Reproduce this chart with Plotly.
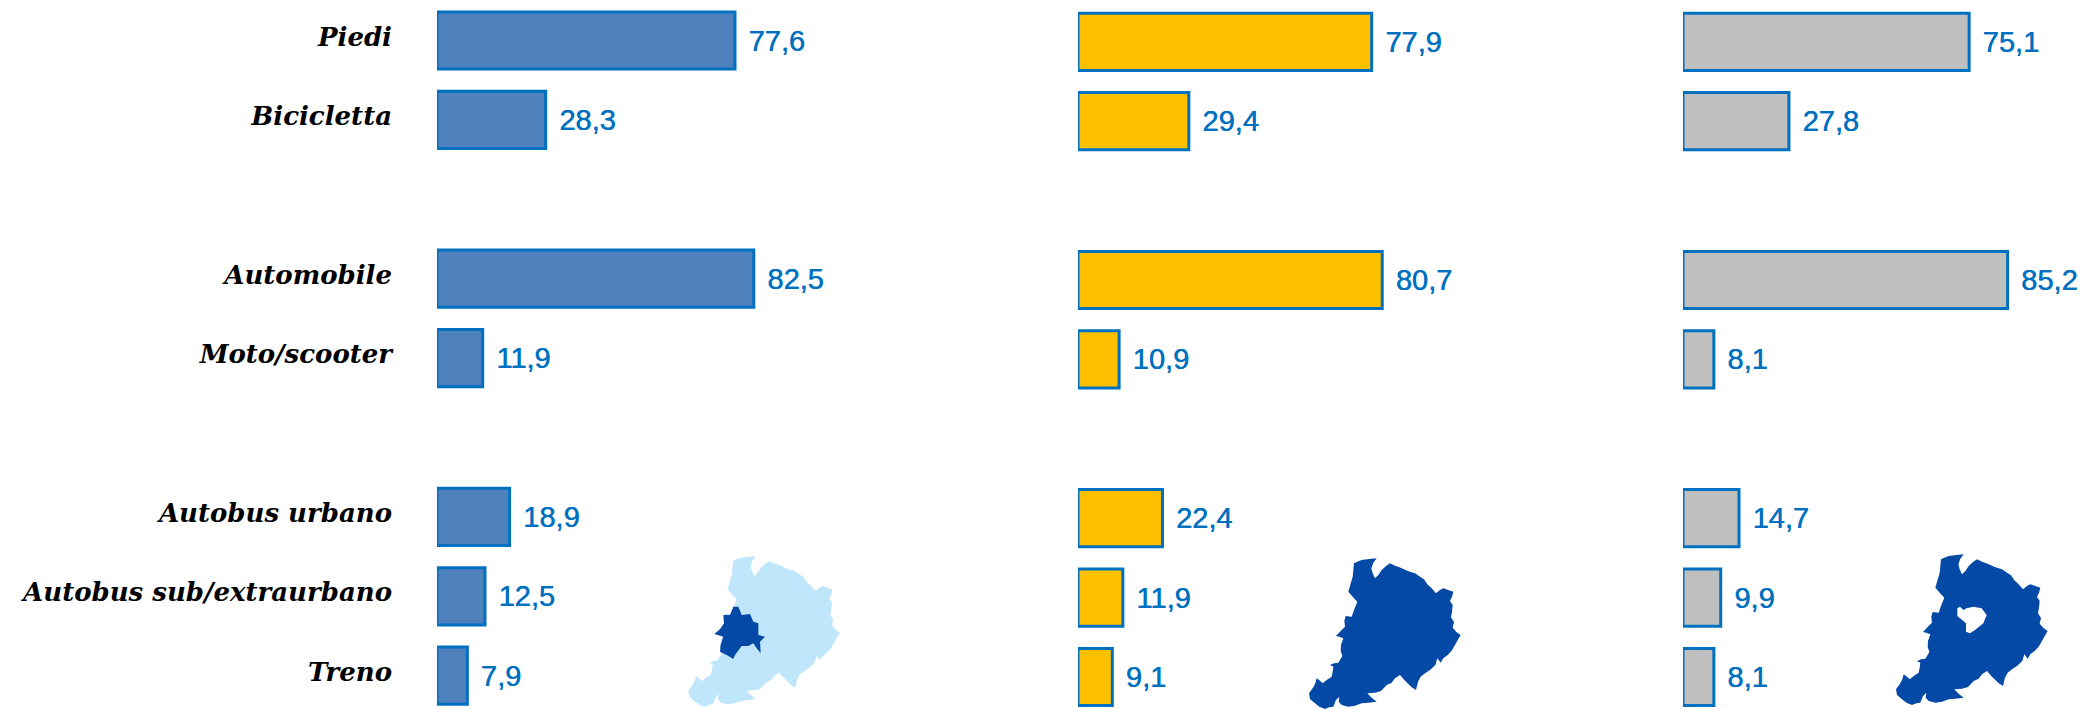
import plotly.graph_objects as go
from plotly.subplots import make_subplots

W, H = 2090, 709

categories = ["Piedi", "Bicicletta", "\u00a0", "Automobile", "Moto/scooter", "\u00a0\u00a0",
              "Autobus urbano", "Autobus sub/extraurbano", "Treno"]
values_bologna = [77.6, 28.3, None, 82.5, 11.9, None, 18.9, 12.5, 7.9]
values_metro = [77.9, 29.4, None, 80.7, 10.9, None, 22.4, 11.9, 9.1]
values_hinterland = [75.1, 27.8, None, 85.2, 8.1, None, 14.7, 9.9, 8.1]

fill_colors = ["#4F81BD", "#FFC000", "#BFBFBF"]
border_color = "#0070C0"
label_color = "#0070C0"

# Panel placement in pixels: axis start, pixels per unit, vertical nudge
panel_x0 = [437, 1078, 1683]
panel_scale = [3.84, 3.77, 3.81]
panel_dy = [0, 1.3, 1.3]
slot_px = 79.4
first_slot_center = 40.5
axis_max = 95

# Locator-map outlines, as zoom-crop coordinates
map_outline = [(222,100),(232,95),(245,90),(262,88),(290,85),(280,98),(274,115),(278,130),(285,145),(295,135),
    (305,120),(318,108),(330,100),(345,107),(362,113),(385,124),(405,130),(420,140),(432,148),(442,163),
    (455,175),(468,190),(480,180),(490,175),(505,180),(520,185),(516,200),(510,213),(518,225),(516,245),
    (513,262),(522,276),(518,293),(530,307),(542,315),(532,332),(525,345),(515,362),(503,375),(490,385),
    (482,398),(472,385),(466,405),(450,420),(435,430),(422,440),(414,455),(408,480),(395,472),(385,462),
    (373,450),(360,435),(345,445),(335,458),(320,465),(303,483),(285,488),(262,490),(275,503),(290,515),
    (265,518),(245,520),(225,527),(205,530),(185,525),(176,515),(178,500),(168,510),(160,530),(148,532),
    (135,537),(118,530),(105,520),(90,507),(87,490),(100,472),(106,460),(110,445),(120,452),(128,460),
    (140,450),(155,440),(158,425),(160,410),(150,405),(162,400),(175,398),(187,378),(182,362),(183,345),
    (190,325),(178,320),(168,318),(182,303),(195,290),(193,272),(197,258),(215,260),(222,240),(232,215),
    (222,205),(205,185),(210,168),(218,140)]
map_city = [(190,200),(205,200),(215,225),(240,222),(250,245),(265,250),(265,285),(285,290),(270,305),
    (272,340),(260,325),(250,310),(235,318),(215,318),(195,345),(190,357),(170,345),(150,335),(152,315),
    (160,290),(133,282),(150,268),(162,250),(160,225),(180,225)]
map_hole = [(292,235),(300,230),(310,240),(320,235),(340,230),(365,235),(380,255),(370,280),(345,300),
    (330,310),(318,305),(318,280),(300,265),(292,258)]
map_light = "#BFE6FB"
map_dark = "#0349A5"


def path(points, crop_x, crop_y, off_x=0, off_y=0):
    parts = []
    for i, (x, y) in enumerate(points):
        px = crop_x + (x + off_x) / 3
        py = crop_y + (y + off_y) / 3
        parts.append(f"{'M' if i == 0 else 'L'}{px / W:.5f},{1 - py / H:.5f}")
    return " ".join(parts) + " Z"


fig = make_subplots(rows=1, cols=3, horizontal_spacing=0)
series = [values_bologna, values_metro, values_hinterland]

for i, vals in enumerate(series):
    fig.add_trace(go.Bar(
        x=vals, y=categories, orientation="h",
        marker=dict(color=fill_colors[i], line=dict(color=border_color, width=3)),
        text=[None if v is None else "\u00a0\u200a" + f"{v:.1f}".replace(".", ",") for v in vals],
        textposition="outside", cliponaxis=False,
        textfont=dict(family="Liberation Sans", size=29, color=label_color,
                      shadow="0.5px 0 0 #0070C0"),
        hoverinfo="skip", showlegend=False,
    ), row=1, col=i + 1)
    x0 = panel_x0[i]
    top = (first_slot_center + panel_dy[i]) / slot_px
    axis_id = "" if i == 0 else str(i + 1)
    fig.update_layout({
        f"xaxis{axis_id}": dict(
            domain=[x0 / W, min(1, (x0 + axis_max * panel_scale[i]) / W)],
            range=[0, min(axis_max, (W - x0) / panel_scale[i])],
            visible=False, fixedrange=True),
        f"yaxis{axis_id}": dict(
            domain=[0, 1], type="category",
            categoryorder="array", categoryarray=categories,
            range=[H / slot_px - top, -top],
            showgrid=False, zeroline=False, showline=False, ticks="",
            showticklabels=i == 0, fixedrange=True,
            tickmode="array", tickvals=categories, ticktext=categories,
            tickfont=dict(family="DejaVu Serif", size=26, color="#000000", style="italic", weight="bold"),
            ticklabelstandoff=44, ticklabelshift=4,
        ),
    })

shapes = [
    dict(type="path", xref="paper", yref="paper", line_width=0, fillcolor=map_light,
         path=path(map_outline, 1280, 530, -620.7 * 3, -2.33 * 3)),
    dict(type="path", xref="paper", yref="paper", line_width=0, fillcolor=map_dark,
         path=path(map_city, 670, 540)),
    dict(type="path", xref="paper", yref="paper", line_width=0, fillcolor=map_dark,
         path=path(map_outline, 1280, 530)),
    dict(type="path", xref="paper", yref="paper", line_width=0, fillcolor=map_dark, fillrule="evenodd",
         path=path(map_outline, 1280, 530, 587 * 3, -4 * 3) + " " + path(map_hole, 1860, 530)),
]

fig.update_layout(
    width=W, height=H, margin=dict(l=0, r=0, t=0, b=0),
    paper_bgcolor="#FFFFFF", plot_bgcolor="rgba(0,0,0,0)",
    barmode="overlay", bargap=0.28, shapes=shapes,
)

fig.write_html("out.html", config={"displayModeBar": False},
               post_script="document.body.style.margin='0';document.body.style.overflow='hidden';")
